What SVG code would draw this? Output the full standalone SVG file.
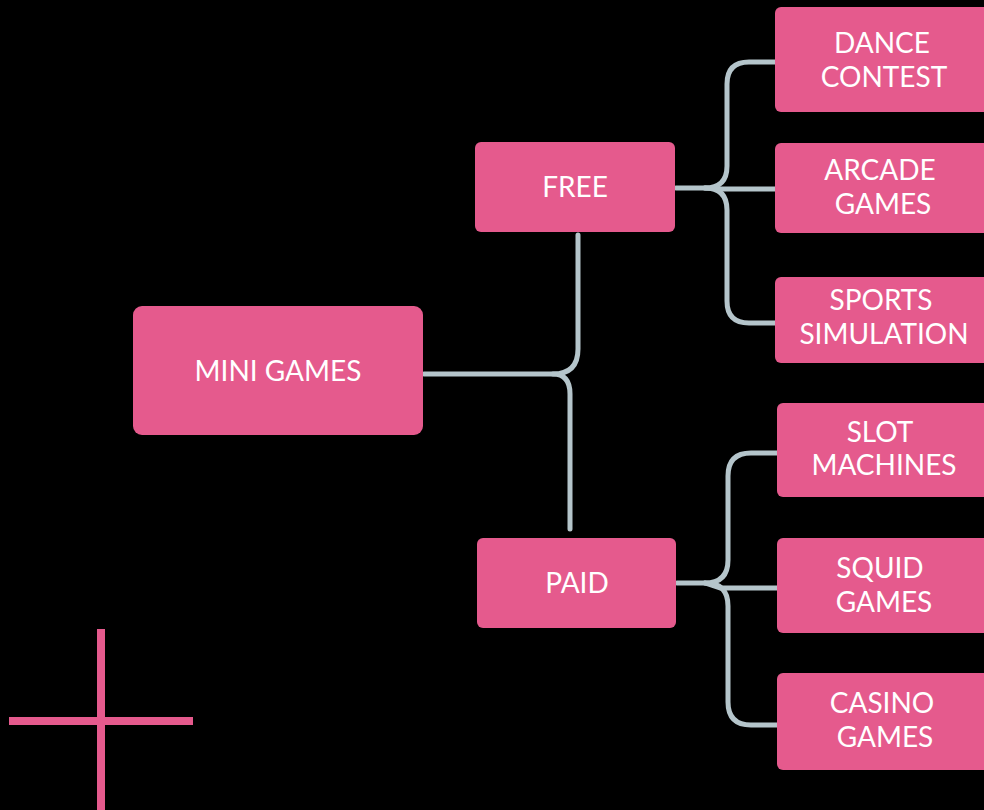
<svg xmlns="http://www.w3.org/2000/svg" width="984" height="810" viewBox="0 0 984 810">
<style>
.n{fill:#e55a8d}
.t{font-family:Lato,"Noto Sans","Liberation Sans",sans-serif;font-size:28px;fill:#ffffff;text-anchor:middle}
.c{fill:none;stroke:#b5c5cb;stroke-width:5;stroke-linecap:round;stroke-linejoin:round}
</style>
<rect x="0" y="0" width="984" height="810" fill="#000000"/>
<g id="connectors">
<path class="c" d="M424,374 H553 Q578,374 578,349 V235"/>
<path class="c" d="M553,374 Q570,374 570,394 V529"/>
<path class="c" d="M676,188 H705 Q727,188 727,166 V84 Q727,62 749,62 H778"/>
<path class="c" d="M705,188 Q727,188 727,210 V301 Q727,323 749,323 H776"/>
<path class="c" d="M705,188 L720,189 H776"/>
<path class="c" d="M677,583 H705 Q728,583 728,560 V476 Q728,453 751,453 H781"/>
<path class="c" d="M705,583 Q728,583 728,606 V702 Q728,725 751,725 H778"/>
<path class="c" d="M705,583 L720,588 H778"/>
</g>
<g id="mini-games"><rect class="n" x="133" y="306" width="290" height="129" rx="9"/><text class="t" x="278" y="381">MINI GAMES</text></g>
<g id="free"><rect class="n" x="475" y="142" width="200" height="90" rx="6"/><text class="t" x="575" y="197">FREE</text></g>
<g id="paid"><rect class="n" x="477" y="538" width="199" height="90" rx="6"/><text class="t" x="577" y="593">PAID</text></g>
<g id="dance-contest"><rect class="n" x="775" y="7" width="216" height="105" rx="6"/><text class="t" x="882" y="53">DANCE</text><text class="t" x="884" y="87">CONTEST</text></g>
<g id="arcade-games"><rect class="n" x="775" y="143" width="216" height="90" rx="6"/><text class="t" x="880" y="180">ARCADE</text><text class="t" x="883" y="214">GAMES</text></g>
<g id="sports-simulation"><rect class="n" x="775" y="277" width="216" height="86" rx="6"/><text class="t" x="881" y="310">SPORTS</text><text class="t" x="884" y="344">SIMULATION</text></g>
<g id="slot-machines"><rect class="n" x="777" y="403" width="216" height="94" rx="6"/><text class="t" x="880" y="442">SLOT</text><text class="t" x="884" y="475">MACHINES</text></g>
<g id="squid-games"><rect class="n" x="777" y="538" width="216" height="95" rx="6"/><text class="t" x="880" y="578">SQUID</text><text class="t" x="884" y="612">GAMES</text></g>
<g id="casino-games"><rect class="n" x="777" y="673" width="216" height="97" rx="6"/><text class="t" x="882" y="713">CASINO</text><text class="t" x="885" y="747">GAMES</text></g>
<g id="cross">
<rect class="n" x="97" y="629" width="8" height="181"/>
<rect class="n" x="9" y="717" width="184" height="8"/>
</g>
</svg>
